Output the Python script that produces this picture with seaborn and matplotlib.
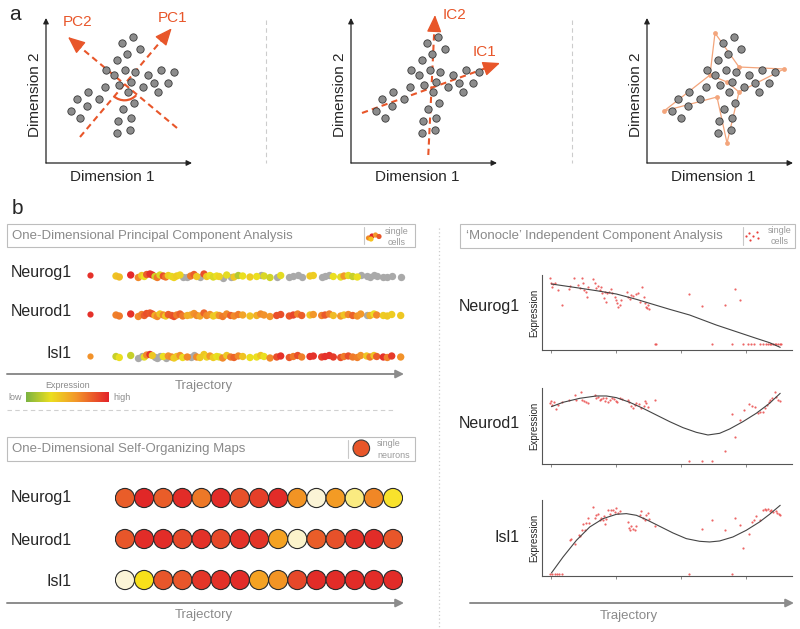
import numpy as np
import pandas as pd
import seaborn as sns
import matplotlib.pyplot as plt
from matplotlib.colors import LinearSegmentedColormap
from matplotlib.patches import Rectangle, Arc, Circle

sns.set_style('white')
plt.rcParams['font.family'] = ['Liberation Sans', 'DejaVu Sans']

W, H = 800, 629
ORANGE = '#e8562a'
GREY_TXT = '#8a8a8a'

# ---------------- panel a : cells in two dimensions (offset from origin) ----------------
cell_x = [87.3, 75.7, 94, 81.3, 70.7, 60, 68.3, 79, 89, 101.7, 115, 128.3, 122.3, 73.3, 85, 97.3,
          108.3, 112.3, 82.3, 59, 42.3, 53.3, 30.7, 40.7, 25, 34, 77.3, 88.3, 72.3, 85, 70.7, 84]
cell_y = [126.3, 119.7, 113.7, 108.7, 103, 93, 88, 93, 90.7, 88, 93, 90.7, 80.3, 78, 81.3, 76.3,
          80.3, 71.3, 70.7, 75.7, 71.3, 63.7, 63.7, 57, 52, 45.3, 54, 59.7, 42.3, 45.3, 29.7, 33]

# component axes: (start, tip)
pc1 = [(34, 26), (125.7, 134.7)]
pc2 = [(131, 35), (22, 126)]
ic1 = [(11, 50), (149, 100)]
ic2 = [(77.3, 8), (84, 148)]

# monocle spanning tree
tree_x = [68, 63, 92, 137, 92, 80, 70, 17, 80]
tree_y = [130, 88, 96, 94, 71, 20, 66, 52, 81]
tree_edges = [(0, 1), (0, 2), (2, 3), (3, 4), (4, 5), (5, 6), (6, 7), (7, 1), (1, 8), (8, 4)]

# ---------------- panel b : 1D PCA ----------------
genes = ['Neurog1', 'Neurod1', 'Isl1']
traj_pos = [16, 19.3, 30.7, 38.3, 41.7, 44.3, 46.7, 50, 52.3, 55, 57.3, 60, 63.3, 65.7, 68.3, 71.7,
            74, 76.7, 80, 82.7, 87.3, 90.7, 94, 96.7, 100, 104, 106.7, 110, 113.3, 116.7, 119.3,
            122.7, 126.7, 130.7, 134, 138.3, 142.7, 150, 156.7, 160.7, 164, 170, 176.7, 180.7,
            189.3, 193.3, 197.7, 201.7, 210, 213.3, 221.7, 225, 229.3, 233.3, 240.7, 244, 248.3,
            252.7, 257.3, 260.7, 266.7, 270, 274, 276.7, 283.3, 287.3, 291.7, 300.7]
traj_jitter = [0, 1, -1, 1.5, -0.5, 0.5, -1.5, -2, -1, 0.5, 1.5, -1, 0, 1, -0.5, 0.5, 1.5, 0, -1, 1,
               0.5, 0, -1.5, 0.5, 1, -2, 0.5, -0.5, 1, 0, 0.5, 1.5, -1, 0.5, 1, -0.5, 0, 1, 0.5, -1,
               0, 1.5, 0.5, -0.5, 1, 0, -1, 0.5, 0, -0.5, 0.5, 0, -1, 0.5, 1, 0, -0.5, 0.5, 1, -1,
               -0.5, 0.5, -1, 0, 0.5, 1, -0.5, 0.5]
nan = np.nan
pca_neurog1 = [0.42, 0.45, 0.98, 0.65, 0.4, 0.3, 0.8, 0.95, 0.95, 0.22, 0.7, 0.25, 0.85, 0.72, 0.38,
               0.28, 0.35, 0.38, 0.35, nan, nan, 0.7, 0.8, 0.4, nan, 0.85, 0.4, 0.3, 0.25, 0.3, 0.35,
               nan, 0.28, nan, 0.4, 0.15, 0.3, 0.38, 0.3, nan, 0.25, 0.22, nan, 0.28, nan, nan, nan,
               nan, 0.4, 0.38, nan, nan, nan, 0.3, 0.28, 0.6, 0.28, 0.2, 0.3, nan, nan, nan, nan,
               nan, nan, nan, nan, nan]
pca_neurod1 = [0.68, 0.7, 0.95, 0.65, 0.68, 0.8, 0.85, 0.82, 0.85, 0.5, 0.65, 0.42, 0.65, 0.4, 0.8,
               0.82, 0.85, 0.7, 0.8, 0.7, 0.5, 0.5, 0.62, 0.65, 0.55, 0.78, 0.65, 0.62, 0.4, 0.38,
               0.62, 0.7, 0.65, 0.8, 0.65, 0.7, 0.55, 0.42, 0.5, 0.65, 0.62, 0.6, 0.85, 0.85, 0.82,
               0.88, 0.68, 0.8, 0.42, 0.6, 0.68, 0.82, 0.68, 0.45, 0.6, 0.42, 0.65, 0.78, 0.62, 0.6,
               nan, 0.5, 0.32, 0.65, 0.38, 0.4, 0.38, 0.4]
pca_isl1 = [0.2, 0.3, 0.2, nan, nan, 0.28, 0.65, 0.95, 0.4, nan, nan, nan, 0.3, nan, 0.62, 0.65,
            0.38, 0.4, 0.62, 0.32, 0.65, nan, nan, 0.65, 0.4, 0.4, 0.35, 0.6, 0.38, 0.3, 0.28, 0.65,
            0.4, 0.7, 0.78, 0.65, 0.42, 0.3, 0.3, 0.42, 0.3, 0.65, 0.85, 0.95, 0.82, 0.7, 0.85,
            0.68, 0.95, 0.95, 0.9, 0.95, 0.95, 0.92, 0.85, 0.7, 0.85, 0.7, 0.68, 0.62, 0.4, 0.7,
            0.42, 0.8, 0.95, 0.68, 0.92, 0.62]
pca_single = [0.95, 0.95, 0.62]

# ---------------- panel b : 1D SOM ----------------
som_neurog1 = [0.78, 0.97, 0.78, 0.95, 0.7, 0.95, 0.82, 0.88, 0.95, 0.62, 0.0, 0.6, 0.15, 0.66, 0.3]
som_neurod1 = [0.8, 0.95, 0.95, 0.85, 0.93, 0.85, 0.93, 0.92, 0.58, 0.02, 0.78, 0.82, 0.93, 0.95, 0.8]
som_isl1 = [0.0, 0.33, 0.8, 0.8, 0.92, 0.93, 0.95, 0.58, 0.62, 0.85, 0.95, 0.95, 0.95, 0.95, 0.95]

# ---------------- panel b : monocle ----------------
mon_neurog1_x = [-0.15, 0, 0.26, 0.51, 0.15, 1.03, 1.69, 2.72, 2.82, 3.49, 4.10, 4.36, 4.72, 4.87, 5.03,
                 5.38, 5.64, 5.54, 6.41, 6.67, 6.92, 7.18, 7.44, 7.69, 7.85, 8.05, 8.21, 8.46, 8.62,
                 8.82, 9.23, 9.38, 9.74, 9.90, 10.10, 10.26, 10.51, 10.77, 11.64, 11.79, 12.05, 12.31,
                 12.56, 12.97, 13.33, 13.59, 13.95, 14.21, 14.36, 14.51, 14.72, 14.87, 15.03, 15.90,
                 16.05, 21.13, 23.23, 24.77, 26.67, 27.85, 28.21, 28.97, 29.49, 30.26, 30.77, 31.13,
                 32.05, 32.56, 33.08, 33.33, 33.59, 33.85, 34.1, 34.36, 34.62, 34.87, 35.13, 35.38]
mon_neurog1_y = [0.985, 0.92, 0.90, 0.91, 0.86, 0.81, 0.585, 0.82, 0.87, 0.985, 0.885, 0.835, 0.985, 0.91,
                 0.81, 0.785, 0.86, 0.71, 0.97, 0.92, 0.835, 0.87, 0.81, 0.85, 0.76, 0.685, 0.785,
                 0.635, 0.76, 0.785, 0.82, 0.77, 0.71, 0.66, 0.61, 0.56, 0.585, 0.66, 0.785, 0.71,
                 0.67, 0.735, 0.72, 0.75, 0.76, 0.635, 0.85, 0.70, 0.61, 0.56, 0.535, 0.585, 0.52, 0,
                 0, 0.75, 0.57, 0, 0.585, 0, 0.82, 0.66, 0, 0, 0, 0, 0, 0, 0, 0, 0, 0, 0, 0, 0, 0, 0, 0]
mon_neurod1_x = [-0.15, 0, 0.15, 0.36, 0.77, 1.03, 1.69, 2.72, 3.59, 3.85, 4.62, 4.77, 4.97, 5.38, 5.64,
                 6.67, 6.92, 7.18, 7.44, 7.69, 7.95, 8.21, 8.46, 8.72, 8.97, 9.38, 9.59, 9.90, 10.10,
                 10.51, 10.92, 11.79, 11.95, 12.31, 12.56, 12.82, 13.08, 13.49, 13.85, 14.21, 14.36,
                 14.62, 14.87, 15.90, 21.18, 23.23, 24.77, 26.67, 27.85, 28.21, 28.97, 29.59, 30.41,
                 30.92, 31.28, 31.79, 32.15, 32.56, 32.82, 33.18, 33.49, 33.69, 34.0, 34.36, 34.62,
                 34.87, 35.13]
mon_neurod1_y = [0.86, 0.895, 0.835, 0.875, 0.775, 0.835, 0.885, 0.91, 0.985, 0.91, 1.025, 0.91, 0.895,
                 0.885, 0.86, 0.985, 0.935, 0.96, 0.91, 0.925, 0.945, 0.895, 0.935, 0.875, 0.91, 0.945,
                 0.925, 0.895, 0.875, 0.945, 0.925, 0.91, 0.885, 0.825, 0.795, 0.835, 0.86, 0.845,
                 0.785, 0.825, 0.895, 0.86, 0.81, 0.91, 0, 0, 0, 0.145, 0.695, 0.36, 0.61, 0.76, 0.845,
                 0.825, 0.81, 0.71, 0.725, 0.735, 0.785, 0.835, 0.885, 0.91, 0.935, 1.035, 0.96, 0.91,
                 0.895]
mon_isl1_x = [-0.15, 0.15, 0.51, 0.87, 1.18, 1.69, 2.82, 3.08, 3.59, 4.26, 4.46, 4.77, 5.13, 4.87, 5.38,
              5.64, 5.79, 6.41, 6.67, 6.92, 7.18, 7.44, 7.69, 7.95, 8.21, 8.05, 8.46, 8.72, 8.97, 9.23,
              9.49, 9.74, 10.0, 10.26, 10.62, 11.79, 11.95, 12.15, 12.31, 12.56, 12.82, 13.08, 13.59,
              13.85, 14.10, 14.36, 14.62, 14.87, 15.03, 15.90, 21.18, 23.23, 24.77, 26.67, 27.85,
              28.21, 28.97, 29.49, 30.41, 30.92, 31.13, 31.54, 32.05, 32.56, 32.82, 33.08, 33.33,
              33.59, 33.85, 34.10, 34.51, 34.72, 35.03, 35.23]
mon_isl1_y = [0, 0, 0, 0, 0, 0, 0.5, 0.525, 0.45, 0.575, 0.56, 0.65, 0.66, 0.75, 0.76, 0.84, 0.76, 1.0,
              0.84, 0.875, 0.90, 0.81, 0.84, 0.80, 0.74, 0.86, 0.825, 0.95, 0.89, 0.95, 0.96, 0.925,
              0.99, 0.91, 0.94, 0.775, 0.69, 0.66, 0.71, 0.675, 0.65, 0.71, 0.875, 0.94, 0.84, 0.80,
              0.875, 0.91, 0.825, 0.71, 0, 0.675, 0.81, 0.66, 0, 0.84, 0.725, 0.39, 0.59, 0.775, 0.81,
              0.86, 0.80, 0.96, 0.975, 0.95, 0.975, 0.94, 0.96, 0.925, 0.94, 0.91, 0.90, 0.875]

fit_neurog1_x = [0, 2.82, 6.92, 10.0, 13.08, 15.13, 18.21, 21.28, 23.33, 25.38, 28.46, 31.54, 33.59, 35.23]
fit_neurog1_y = [0.90, 0.86, 0.80, 0.75, 0.67, 0.61, 0.52, 0.435, 0.36, 0.285, 0.185, 0.085, 0.02, -0.05]
fit_neurod1_x = [0, 1.79, 4.36, 6.92, 8.46, 10.0, 12.05, 14.10, 16.15, 18.21, 20.26, 22.31, 24.10, 25.90,
                 27.44, 29.49, 31.54, 33.59, 35.23]
fit_neurod1_y = [0.81, 0.875, 0.935, 0.97, 0.97, 0.945, 0.875, 0.785, 0.685, 0.585, 0.495, 0.425, 0.385,
                 0.41, 0.475, 0.585, 0.71, 0.86, 1.01]
fit_isl1_x = [0, 1.79, 3.85, 5.90, 7.95, 10.0, 11.54, 13.08, 14.62, 16.67, 18.72, 20.77, 22.82, 24.36,
              25.90, 27.95, 30.0, 32.05, 33.59, 35.23]
fit_isl1_y = [0.01, 0.25, 0.5, 0.70, 0.825, 0.89, 0.90, 0.875, 0.81, 0.71, 0.61, 0.525, 0.485, 0.475,
              0.49, 0.55, 0.65, 0.775, 0.89, 1.025]

expr_cmap = LinearSegmentedColormap.from_list(
    'expr', [(0, '#7bb342'), (0.3, '#ecdf1f'), (0.6, '#f3982a'), (1, '#e3232a')])
som_cmap = LinearSegmentedColormap.from_list(
    'som', [(0, '#fbf4d6'), (0.33, '#f8e01a'), (0.58, '#f4a223'), (0.8, '#e8562a'), (1, '#e01f27')])


def box(x0, y0, x1, y1):
    return [x0 / W, 1 - y1 / H, (x1 - x0) / W, (y1 - y0) / H]


fig = plt.figure(figsize=(8, 6.29), dpi=100)
ov = fig.add_axes([0, 0, 1, 1], zorder=5)
ov.set_xlim(0, W)
ov.set_ylim(H, 0)
ov.axis('off')
ov.patch.set_alpha(0)


def arrow(x0, y0, x1, y1, color, lw, ms):
    ov.annotate('', xy=(x1, y1), xytext=(x0, y0),
                arrowprops=dict(arrowstyle='-|>', color=color, lw=lw, mutation_scale=ms,
                                shrinkA=0, shrinkB=0))


# ---- panel a ----
ov.text(15, 14, 'a', fontsize=15, ha='center', va='center')
origins = [46, 351, 647]
scatter_axes = []
for ox in origins:
    ax = fig.add_axes(box(ox, 20, ox + 144, 163))
    ax.set_xlim(0, 144)
    ax.set_ylim(0, 143)
    ax.axis('off')
    ax.patch.set_alpha(0)
    sns.scatterplot(x=cell_x, y=cell_y, ax=ax, s=28, color='#8c8c8c', edgecolor='#3a3a3a',
                    linewidth=0.6, zorder=3, legend=False)
    scatter_axes.append(ax)
    arrow(ox, 163, ox + 146, 163, '#222222', 0.9, 8)
    arrow(ox, 163, ox, 18, '#222222', 0.9, 8)
    ov.text(ox - 11, 95, 'Dimension 2', rotation=90, fontsize=11, ha='center', va='center')
    ov.text(ox + 66.5, 177, 'Dimension 1', fontsize=11, ha='center', va='center')


def comp_arrow(ax, seg):
    (sx, sy), (tx, ty) = seg
    dx, dy = tx - sx, ty - sy
    L = np.hypot(dx, dy)
    bx, by = tx - dx / L * 11, ty - dy / L * 11
    ax.plot([sx, bx], [sy, by], ls=(0, (3, 2)), color=ORANGE, lw=1.5, clip_on=False)
    ax.annotate('', xy=(tx, ty), xytext=(bx, by), annotation_clip=False,
                arrowprops=dict(arrowstyle='-|>,head_length=0.7,head_width=0.3', color=ORANGE,
                                lw=1.0, mutation_scale=15, shrinkA=0, shrinkB=0))


comp_arrow(scatter_axes[0], pc1)
comp_arrow(scatter_axes[0], pc2)
scatter_axes[0].add_patch(Arc((78.5, 78.7), 32, 32, theta1=228, theta2=317, color=ORANGE, lw=1.6))
comp_arrow(scatter_axes[1], ic1)
comp_arrow(scatter_axes[1], ic2)
ov.text(78, 22, 'PC2', color=ORANGE, fontsize=11, ha='center', va='center')
ov.text(173, 18, 'PC1', color=ORANGE, fontsize=11, ha='center', va='center')
ov.text(443, 15, 'IC2', color=ORANGE, fontsize=11, ha='left', va='center')
ov.text(484, 52, 'IC1', color=ORANGE, fontsize=11, ha='center', va='center')

tax = scatter_axes[2]
for a, b in tree_edges:
    tax.plot([tree_x[a], tree_x[b]], [tree_y[a], tree_y[b]], color='#f3a57c', lw=0.9, zorder=1)
sns.scatterplot(x=tree_x, y=tree_y, ax=tax, s=12, color='#f3a57c', linewidth=0, zorder=2, legend=False)

for xs in (266, 572):
    ov.plot([xs, xs], [20, 163], ls=(0, (4, 3)), color='#cccccc', lw=0.8)

# ---- panel b ----
ov.text(17, 208, 'b', fontsize=15, ha='center', va='center')


def header(x0, y0, x1, y1, title, div):
    ov.add_patch(Rectangle((x0, y0), x1 - x0, y1 - y0, fill=False, ec='#bdbdbd', lw=0.8))
    ov.text(x0 + 5.5, (y0 + y1) / 2, title, fontsize=9.5, color=GREY_TXT, ha='left', va='center')
    ov.plot([div, div], [y0 + 3, y1 - 3], color='#c8c8c8', lw=0.8)


header(7, 224, 415, 247, 'One-Dimensional Principal Component Analysis', 364)
ov.scatter([368.5, 372, 375.5, 379, 371], [238, 236, 235, 236.5, 239],
           c=['#f08a24', '#e3262a', '#f3982a', '#e8562a', '#f6c21e'], s=14, lw=0, zorder=6)
ov.text(397, 231, 'single', fontsize=6.5, color='#9a9a9a', ha='center', va='center')
ov.text(397, 242.5, 'cells', fontsize=6.5, color='#9a9a9a', ha='center', va='center')

header(460, 223.5, 795, 247.5, u'\u2018Monocle\u2019 Independent Component Analysis', 742.7)
ov.scatter([746, 748.5, 750, 753, 756.5, 758], [236, 233, 239.5, 235.5, 232, 238],
           color='#e8413c', s=2.5, lw=0, zorder=6)
ov.text(780, 230.5, 'single', fontsize=6.5, color='#9a9a9a', ha='center', va='center')
ov.text(780, 242, 'cells', fontsize=6.5, color='#9a9a9a', ha='center', va='center')

header(7, 437, 415, 461, 'One-Dimensional Self-Organizing Maps', 348)
ov.add_patch(Circle((361.3, 448.3), 8.3, fc=ORANGE, ec='#3a3a3a', lw=0.8, zorder=6))
ov.text(377, 443.5, 'single', fontsize=6.5, color='#9a9a9a', ha='left', va='center')
ov.text(377, 455, 'neurons', fontsize=6.5, color='#9a9a9a', ha='left', va='center')

# 1D PCA strips
pca_rows = [pca_neurog1, pca_neurod1, pca_isl1]
row_y = [276, 315, 356.5]
label_y = [272, 312, 354]
sax = fig.add_axes(box(100, 255, 410, 370))
sax.set_xlim(0, 310)
sax.set_ylim(370, 255)
sax.axis('off')
sax.patch.set_alpha(0)
for gene, vals, yc, ly, single in zip(genes, pca_rows, row_y, label_y, pca_single):
    df = pd.DataFrame({'pos': traj_pos, 'y': yc + np.array(traj_jitter), 'expr': vals})
    grey = df[df['expr'].isna()]
    col = df[df['expr'].notna()]
    sns.scatterplot(data=grey, x='pos', y='y', ax=sax, color='#a9a9a9', s=28, linewidth=0, legend=False)
    sns.scatterplot(data=col, x='pos', y='y', hue='expr', palette=expr_cmap, hue_norm=(0, 1),
                    ax=sax, s=28, linewidth=0, legend=False)
    ov.scatter([90], [yc - 1], c=[expr_cmap(single)], s=20, lw=0)
    ov.text(72, ly, gene, fontsize=11.5, ha='right', va='center')
sax.set_xlabel('')
sax.set_ylabel('')

arrow(7, 374, 404, 374, '#8c8c8c', 1.4, 12)
ov.text(204, 386, 'Trajectory', fontsize=9.5, color=GREY_TXT, ha='center', va='center')

cax = fig.add_axes(box(26, 392, 109, 402))
cax.imshow(np.linspace(0, 1, 256)[None, :], cmap=expr_cmap, aspect='auto')
cax.axis('off')
ov.text(68, 385.5, 'Expression', fontsize=6.5, color=GREY_TXT, ha='center', va='center')
ov.text(15, 397, 'low', fontsize=6.5, color=GREY_TXT, ha='center', va='center')
ov.text(122, 397, 'high', fontsize=6.5, color=GREY_TXT, ha='center', va='center')
ov.plot([7, 395], [410, 410], ls=(0, (4, 3)), color='#d0d0d0', lw=0.8)

# 1D SOM
som_rows = [som_neurog1, som_neurod1, som_isl1]
som_y = [498, 539, 580]
som_label_y = [497.7, 540.7, 581.7]
mx = fig.add_axes(box(115.4, 478, 402.6, 598))
mx.set_xlim(-0.5, 14.5)
mx.set_ylim(598, 478)
mx.axis('off')
mx.patch.set_alpha(0)
for gene, vals, yc, ly in zip(genes, som_rows, som_y, som_label_y):
    sns.scatterplot(x=np.arange(len(vals)), y=[yc] * len(vals), hue=vals, palette=som_cmap,
                    hue_norm=(0, 1), ax=mx, s=190, edgecolor='#2a2a2a', linewidth=0.8, legend=False)
    ov.text(72, ly, gene, fontsize=11.5, ha='right', va='center')
arrow(7, 603, 404, 603, '#8c8c8c', 1.4, 12)
ov.text(204, 615, 'Trajectory', fontsize=9.5, color=GREY_TXT, ha='center', va='center')

ov.plot([439, 439], [228, 629], ls=(0, (1, 2)), color='#cccccc', lw=0.9)

# monocle panels
mon = [(mon_neurog1_x, mon_neurog1_y, fit_neurog1_x, fit_neurog1_y),
       (mon_neurod1_x, mon_neurod1_y, fit_neurod1_x, fit_neurod1_y),
       (mon_isl1_x, mon_isl1_y, fit_isl1_x, fit_isl1_y)]
mon_box = [(275, 350), (388.3, 464), (500.3, 576.3)]
mon_ylim = [(-0.09, 1.035), (-0.05, 1.085), (-0.04, 1.10)]
mon_label = [(520, 306), (520, 423), (520, 537)]
for gene, (px, py, fx, fy), (y0, y1), yl, (lx, ly) in zip(genes, mon, mon_box, mon_ylim, mon_label):
    ax = fig.add_axes(box(541.7, y0, 791.7, y1))
    ax.patch.set_alpha(0)
    sns.scatterplot(x=px, y=py, ax=ax, color='#ea4b4b', s=2.5, alpha=0.85, linewidth=0, legend=False)
    sns.lineplot(x=fx, y=fy, ax=ax, color='#444444', lw=0.8, sort=False, estimator=None)
    ax.set_xlim(-1.5, 37)
    ax.set_ylim(*yl)
    sns.despine(ax=ax)
    for s in ('left', 'bottom'):
        ax.spines[s].set_color('#555555')
        ax.spines[s].set_linewidth(0.8)
    ax.set_xticks([0, 10, 20, 30])
    ax.set_xticklabels([])
    ax.set_yticks([])
    ax.tick_params(axis='x', direction='out', length=2.5, width=0.6, color='#777777', bottom=True)
    ax.set_ylabel('Expression', fontsize=7, labelpad=2)
    ov.text(lx, ly, gene, fontsize=11.5, ha='right', va='center')

arrow(470, 603, 794, 603, '#8c8c8c', 1.4, 12)
ov.text(629, 616, 'Trajectory', fontsize=9.5, color=GREY_TXT, ha='center', va='center')

fig.savefig('out.png', dpi=100)
